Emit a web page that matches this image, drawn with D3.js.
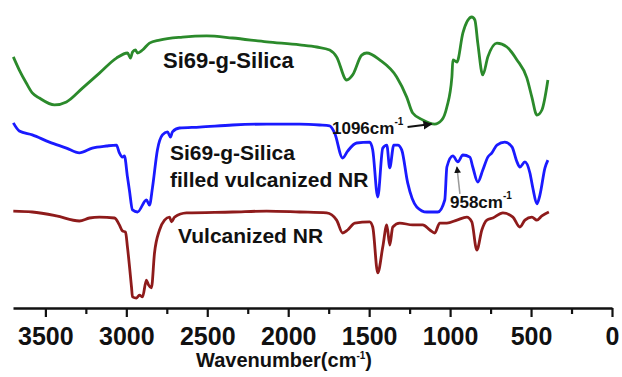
<!DOCTYPE html>
<html>
<head>
<meta charset="utf-8">
<script src="https://cdn.jsdelivr.net/npm/d3@7"></script>
<style>
  body { margin: 0; background: #fff; }
  text { font-family: "Liberation Sans", Arial, sans-serif; font-weight: bold; fill: #111; }
</style>
</head>
<body>
<svg width="622" height="377"></svg>
<script>
// FTIR spectra, offset transmittance (a.u.) vs wavenumber
var wnGreen = [3698,3661,3618,3581,3537,3444,3370,3271,3166,3061,2993,2974,2962,2944,2931,2900,2857,2795,2653,2504,2344,2133,1929,1824,1744,1701,1639,1602,1546,1515,1435,1330,1268,1231,1169,1096,1051,1020,989,983,958,921,866,847,829,798,767,711,649,587,526,495,464,433,396];
var tGreen  = [83.7,79.3,75,71.7,70,67.7,68.7,73.3,78.3,83.3,85,83.3,85.3,86,85,86,88.3,89.3,90.3,90.7,90,88.7,87.7,87,86,83.7,76,77.7,84.3,85,82.7,77,70.3,65,62.7,61.3,62.7,67,77,82.7,82,91.7,97,96,88.3,77.7,83.7,88.3,87,82.7,76.7,70.3,64.3,66,76];

var wnBlue = [3698,3661,3581,3475,3370,3290,3210,3123,3061,3043,3024,3012,2993,2981,2962,2931,2876,2857,2838,2808,2777,2746,2727,2715,2672,2548,2344,2133,1929,1806,1744,1713,1664,1633,1577,1497,1478,1447,1416,1391,1373,1348,1323,1299,1262,1206,1144,1076,1033,1020,983,952,921,878,860,829,798,767,742,711,662,618,587,569,538,507,489,464,445,414,396];
var tBlue  = [61.7,59,57.7,55.3,53.3,51.7,53.3,54,54.3,51.7,50.3,50.7,43.7,39.3,32.7,32,36,34.3,40.3,52.7,57.7,58.7,57,58.7,60,60.3,61,61.3,61.3,61,60.7,58.3,50,52.3,55,55.3,52.7,37,53.3,54.3,46.7,54.3,54.3,52.7,41.7,33.7,32,32,36,47,50.7,48.7,51,50.3,47,42,46,50.3,51.7,54.3,55.3,53.7,48.7,47,48.7,45,40,34.7,37.7,46.7,49.3];

var wnRed = [3698,3581,3432,3290,3228,3166,3073,3043,3024,3005,2993,2968,2962,2937,2919,2900,2876,2863,2845,2826,2795,2764,2733,2721,2702,2628,2344,2133,1929,1762,1701,1664,1633,1589,1497,1478,1447,1416,1391,1373,1354,1311,1231,1169,1125,1095,1064,1020,958,897,866,835,804,773,736,674,612,569,538,495,464,433,390];
var tRed  = [32.3,32,30.7,29,30,30.3,30,27.7,25.7,25.3,20.3,7,3.7,3.3,4.3,3.7,9.3,7.7,6.7,18.3,26,29.3,30.3,28.7,30.3,31.7,32,32.3,32,31.7,29.3,25,26,28.3,28.7,27,11.7,20.3,27.7,21,27,28.3,27.7,27.7,26,25,28.3,28.3,29.3,30.3,28.7,19.3,26,29.3,30,31.7,30.3,27,29.3,30.3,29.3,30.7,32];

var majorTicks = [3500, 3000, 2500, 2000, 1500, 1000, 500, 0];
var minorTicks = [3250, 2750, 2250, 1750, 1250, 750, 250];

var svg = d3.select("svg");

var x = d3.scaleLinear().domain([3700, 0]).range([13, 612]);
var y = d3.scaleLinear().domain([0, 100]).range([308, 8]);

var line = d3.line()
    .x(function (d) { return x(d[0]); })
    .y(function (d) { return y(d[1]); })
    .curve(d3.curveMonotoneX);

var series = [
    {wn: wnGreen, t: tGreen, color: "#2b8a2b"},
    {wn: wnBlue, t: tBlue, color: "#1a1aff"},
    {wn: wnRed, t: tRed, color: "#8e1b1b"}
];

svg.selectAll("path.spec")
    .data(series)
    .enter()
    .append("path")
    .attr("class", "spec")
    .attr("d", function (s) { return line(s.wn.map(function (w, i) { return [w, s.t[i]]; })); })
    .style("fill", "none")
    .style("stroke", function (s) { return s.color; })
    .style("stroke-width", 2.8)
    .style("stroke-linejoin", "round");

// x axis
var gx = svg.append("g")
    .attr("transform", "translate(0," + y(0) + ")")
    .call(d3.axisBottom(x).tickValues(majorTicks).tickFormat(d3.format("d"))
        .tickSize(9).tickSizeOuter(0).tickPadding(10));
gx.select(".domain").style("stroke", "#111").style("stroke-width", 2.6);
gx.selectAll(".tick line").style("stroke", "#111").style("stroke-width", 2.2);
gx.selectAll(".tick text").style("font-size", "25px").style("font-family", "Liberation Sans, Arial, sans-serif").style("font-weight", "bold").style("fill", "#111");

var gm = svg.append("g")
    .attr("transform", "translate(0," + y(0) + ")")
    .call(d3.axisBottom(x).tickValues(minorTicks).tickSize(6).tickFormat(""));
gm.select(".domain").remove();
gm.selectAll(".tick line").style("stroke", "#111").style("stroke-width", 2.2);

// axis title
var title = svg.append("text")
    .attr("x", 284)
    .attr("y", 367)
    .attr("text-anchor", "middle")
    .style("font-size", "20px");
title.append("tspan").text("Wavenumber(cm");
title.append("tspan").text("-1").attr("dy", -8).style("font-size", "10px");
title.append("tspan").text(")").attr("dy", 8);

// spectrum labels
svg.append("text").attr("x", 163).attr("y", 68).style("font-size", "22px").text("Si69-g-Silica");
svg.append("text").attr("x", 170).attr("y", 160).style("font-size", "21px").text("Si69-g-Silica");
svg.append("text").attr("x", 170).attr("y", 187).style("font-size", "21px").text("filled vulcanized NR");
svg.append("text").attr("x", 178).attr("y", 243).style("font-size", "21px").text("Vulcanized NR");

// arrowheads
svg.append("defs").append("marker")
    .attr("id", "ah")
    .attr("viewBox", "0 0 10 10")
    .attr("refX", 9).attr("refY", 5)
    .attr("markerWidth", 4.5).attr("markerHeight", 4.5)
    .attr("markerUnits", "strokeWidth")
    .attr("orient", "auto")
    .append("path").attr("d", "M0,0L10,5L0,10z").style("fill", "#111");

// 1096 annotation
var t1096 = tGreen[wnGreen.indexOf(1096)];
svg.append("line")
    .attr("x1", x(1096) - 27).attr("y1", y(t1096) + 3)
    .attr("x2", x(1096) - 3).attr("y2", y(t1096))
    .style("stroke", "#111").style("stroke-width", 2)
    .attr("marker-end", "url(#ah)");
var a1 = svg.append("text").attr("x", 332).attr("y", 134).style("font-size", "17px");
a1.append("tspan").text("1096cm");
a1.append("tspan").text("-1").attr("dy", -9).style("font-size", "10px");

// 958 annotation
var t958 = tBlue[wnBlue.indexOf(952)];
svg.append("line")
    .attr("x1", x(958) + 3).attr("y1", y(t958) + 32)
    .attr("x2", x(958)).attr("y2", y(t958) + 5)
    .style("stroke", "#999").style("stroke-width", 1.5)
    .attr("marker-end", "url(#ah)");
var a2 = svg.append("text").attr("x", 450).attr("y", 208).style("font-size", "17px");
a2.append("tspan").text("958cm");
a2.append("tspan").text("-1").attr("dy", -9).style("font-size", "10px");
</script>
</body>
</html>
